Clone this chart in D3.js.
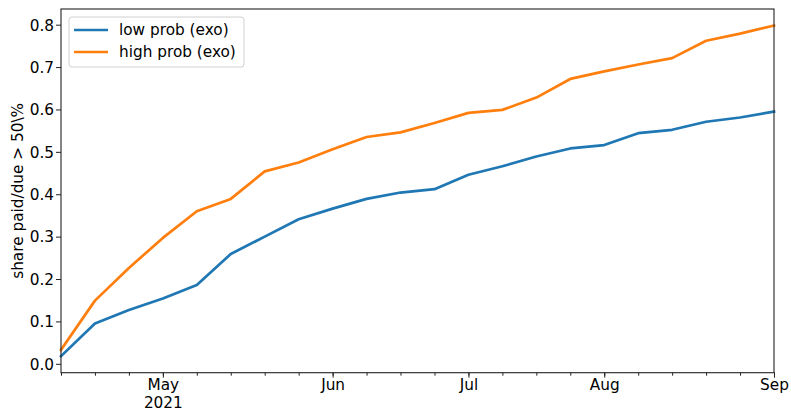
<!DOCTYPE html>
<html>
<head>
<meta charset="utf-8">
<script src="https://cdn.jsdelivr.net/npm/d3@7"></script>
<style>
	body { margin: 0; background: #fff; }
	text { font-family: "DejaVu Sans", sans-serif; fill: #000; }
</style>
</head>
<body>
<div id="chart"></div>
<script>
	// weekly data, one value per week starting Mon 5 Apr 2021
	var firstWeek = "2021-04-05";
	var lowProb = [0.018, 0.095, 0.127, 0.154, 0.186, 0.259, 0.300, 0.341, 0.366, 0.389, 0.404,
		0.412, 0.446, 0.466, 0.489, 0.508, 0.516, 0.544, 0.552, 0.571, 0.581, 0.595];
	var highProb = [0.033, 0.149, 0.226, 0.297, 0.360, 0.389, 0.454, 0.475, 0.506, 0.535, 0.546,
		0.568, 0.592, 0.599, 0.628, 0.672, 0.690, 0.706, 0.721, 0.762, 0.779, 0.798];
	var seriesNames = ["low prob (exo)", "high prob (exo)"];
	var monthStarts = ["2021-05-01", "2021-06-01", "2021-07-01", "2021-08-01", "2021-09-01"];
	var monthLabels = [["May", "2021"], ["Jun"], ["Jul"], ["Aug"], ["Sep"]];
	var yTicks = [0, 0.1, 0.2, 0.3, 0.4, 0.5, 0.6, 0.7, 0.8];
	var yLabel = "share paid/due > 50\\%";

	// chart dimensions
	var width = 791;
	var height = 412;
	var margin = {top: 9, right: 17, bottom: 39.3, left: 61};
	var innerW = width - margin.left - margin.right;
	var innerH = height - margin.top - margin.bottom;
	var fontSize = '15.3px';

	var color = ['#1f77b4', '#ff7f0e'];

	var weeks = lowProb.map(function(d, i) {
		return d3.utcWeek.offset(new Date(firstWeek), i);
	});
	var series = [lowProb, highProb].map(function(values, k) {
		return {
			name: seriesNames[k],
			values: values.map(function(v, i) { return {date: weeks[i], value: v}; })
		};
	});

	var x = d3.scaleUtc()
		.domain(d3.extent(weeks))
		.range([0, innerW]);

	// matplotlib style 5% margins
	var all = lowProb.concat(highProb);
	var ext = d3.extent(all);
	var pad = (ext[1] - ext[0]) * 0.05;
	var y = d3.scaleLinear()
		.domain([ext[0] - pad, ext[1] + pad])
		.range([innerH, 0]);

	var svg = d3.select('#chart')
		.append('svg')
		.attr('width', width)
		.attr('height', height)
		.append('g')
		.attr('transform', 'translate(' + margin.left + ',' + margin.top + ')');

	var line = d3.line()
		.x(function(d) { return x(d.date); })
		.y(function(d) { return y(d.value); });

	svg.selectAll('.series')
		.data(series)
		.enter()
		.append('path')
		.attr('class', 'series')
		.attr('d', function(d) { return line(d.values); })
		.attr('fill', 'none')
		.attr('stroke', function(d, i) { return color[i]; })
		.attr('stroke-width', 2.7)
		.attr('stroke-linejoin', 'round')
		.attr('stroke-linecap', 'square');

	// y axis
	var yAxis = svg.append('g')
		.call(d3.axisLeft(y).tickValues(yTicks).tickFormat(d3.format('.1f')).tickSize(5).tickPadding(2));
	yAxis.select('.domain').remove();
	yAxis.selectAll('text').style('font-size', fontSize).attr('dy', '0.35em');
	yAxis.selectAll('line').attr('stroke', '#222');

	// x axis: minor ticks every week, major at the week holding the 1st of the month
	var xMinor = svg.append('g')
		.attr('transform', 'translate(0,' + innerH + ')')
		.call(d3.axisBottom(x).tickValues(weeks).tickFormat('').tickSize(3));
	xMinor.select('.domain').remove();
	xMinor.selectAll('line').attr('stroke', '#222');

	var majorDates = monthStarts.map(function(m) { return d3.utcMonday.floor(new Date(m)); });
	var xMajor = svg.append('g')
		.attr('transform', 'translate(0,' + innerH + ')')
		.call(d3.axisBottom(x).tickValues(majorDates).tickFormat('').tickSize(5));
	xMajor.select('.domain').remove();
	xMajor.selectAll('line').attr('stroke', '#222');

	xMajor.selectAll('.tick')
		.append('text')
		.attr('text-anchor', 'middle')
		.style('font-size', fontSize)
		.selectAll('tspan')
		.data(function(d, i) { return monthLabels[i]; })
		.enter()
		.append('tspan')
		.attr('x', 0)
		.attr('y', function(d, i) { return 17.5 + i * 18; })
		.text(function(d) { return d; });

	// frame
	svg.append('rect')
		.attr('width', innerW)
		.attr('height', innerH)
		.attr('fill', 'none')
		.attr('stroke', '#222')
		.attr('stroke-width', 1.1);

	// y label
	svg.append('text')
		.attr('transform', 'translate(' + (-38) + ',' + (innerH / 2) + ') rotate(-90)')
		.attr('text-anchor', 'middle')
		.style('font-size', fontSize)
		.text(yLabel);

	// legend
	var legend = svg.append('g')
		.attr('transform', 'translate(8,8)');
	legend.append('rect')
		.attr('width', 175)
		.attr('height', 50)
		.attr('rx', 3)
		.attr('fill', 'rgba(255,255,255,0.8)')
		.attr('stroke', '#d0d0d0');
	var item = legend.selectAll('.item')
		.data(series)
		.enter()
		.append('g')
		.attr('class', 'item')
		.attr('transform', function(d, i) { return 'translate(0,' + (13 + i * 22) + ')'; });
	item.append('line')
		.attr('x1', 5)
		.attr('x2', 39)
		.attr('stroke', function(d, i) { return color[i]; })
		.attr('stroke-width', 2.7);
	item.append('text')
		.attr('x', 50)
		.attr('dy', '0.35em')
		.style('font-size', fontSize)
		.text(function(d) { return d.name; });
</script>
</body>
</html>
